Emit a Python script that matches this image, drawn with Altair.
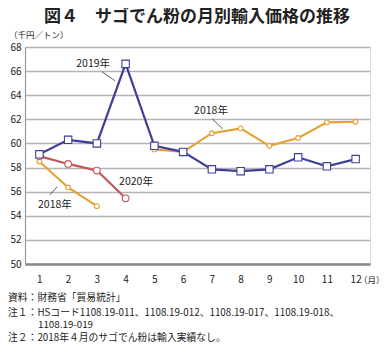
import altair as alt
import pandas as pd

months = list(range(1, 13))
y2019 = [59.1, 60.3, 60.0, 66.6, 59.8, 59.3, 57.85, 57.7, 57.85, 58.85, 58.1, 58.7]
y2018 = [58.5, 56.35, 54.8, None, 59.5, 59.3, 60.85, 61.25, 59.8, 60.45, 61.75, 61.8]
y2020 = [58.95, 58.3, 57.75, 55.45]
y_ticks = [50, 52, 54, 56, 58, 60, 62, 64, 66, 68]

title_text = "図４　サゴでん粉の月別輸入価格の推移"
unit_text = "（千円／トン）"
month_unit = "（月）"
notes = [
    "資料：財務省「貿易統計」",
    "注１：HSコード1108.19-011、1108.19-012、1108.19-017、1108.19-018、",
    "1108.19-019",
    "注２：2018年４月のサゴでん粉は輸入実績なし。",
]
note_x = [-17, -17, 13, -17]
note_y = [251, 265.5, 278, 290.5]

FONT = "Noto Sans CJK JP"
BLUE = "#3f3f98"
ORANGE = "#e2a234"
RED = "#c4585a"

xs = alt.Scale(domain=[0.5, 12.5], nice=False)
ys = alt.Scale(domain=[50, 68], nice=False)

XAX = alt.Axis(values=months, title=None, grid=False, ticks=False,
               labelOverlap=False, labelFlush=False,
               labelPadding=10, labelFontSize=10, labelColor="#222",
               labelFont=FONT, domainColor="#8a8a8a", domainWidth=2.5)
YAX = alt.Axis(values=y_ticks, title=None, ticks=False,
               labelOverlap=False, labelFlush=False,
               labelPadding=4, labelFontSize=10, labelColor="#222",
               labelFont=FONT, gridColor="#b4b4b4", gridWidth=1.3,
               domainColor="#9a9a9a", domainWidth=1.2)
X = alt.X("m:Q", scale=xs, axis=XAX)
Y = alt.Y("v:Q", scale=ys, axis=YAX)

df19 = pd.DataFrame({"m": months, "v": y2019})
df18a = pd.DataFrame({"m": months[:3], "v": y2018[:3]})
df18b = pd.DataFrame({"m": months[4:], "v": y2018[4:]})
df20 = pd.DataFrame({"m": months[:4], "v": y2020})


def series(df, color, shape, size):
    line = alt.Chart(df).mark_line(color=color, strokeWidth=2.2).encode(x=X, y=Y)
    pts = alt.Chart(df).mark_point(shape=shape, size=size, filled=True, fill="white",
                                   stroke=color, strokeWidth=1.1, opacity=1).encode(x=X, y=Y)
    return [line, pts]


layers = []
layers += series(df18a, ORANGE, "circle", 22)
layers += series(df18b, ORANGE, "circle", 22)
layers += series(df20, RED, "circle", 45)
layers += series(df19, BLUE, "square", 55)

lbl = pd.DataFrame({
    "m": [2.87, 4.36, 1.54, 6.97],
    "v": [66.6, 56.8, 54.9, 62.7],
    "t": ["2019年", "2020年", "2018年", "2018年"],
})
labels = alt.Chart(lbl).mark_text(font=FONT, fontSize=10.5, color="#222").encode(
    x=X, y=Y, text="t:N")

leaders = pd.DataFrame({
    "m": [3.18, 1.37, 7.01],
    "v": [65.95, 55.75, 62.05],
    "m2": [3.63, 1.62, 7.38],
    "v2": [65.2, 56.4, 61.2],
})
lead = alt.Chart(leaders).mark_rule(color="#333", strokeWidth=0.8).encode(
    x=X, y=Y, x2="m2:Q", y2="v2:Q")

unit = alt.Chart(pd.DataFrame({"t": [unit_text]})).mark_text(
    font=FONT, fontSize=8.5, color="#222", align="left").encode(
    x=alt.value(-16), y=alt.value(-12), text="t:N")
munit = alt.Chart(pd.DataFrame({"t": [month_unit]})).mark_text(
    font=FONT, fontSize=8.5, color="#222", align="left").encode(
    x=alt.value(334), y=alt.value(233), text="t:N")
ttl = alt.Chart(pd.DataFrame({"t": [title_text]})).mark_text(
    font=FONT, fontSize=17, fontWeight="bold", color="#222", align="center").encode(
    x=alt.value(172), y=alt.value(-30), text="t:N")

note_layers = []
for t, nx, ny in zip(notes, note_x, note_y):
    note_layers.append(
        alt.Chart(pd.DataFrame({"t": [t]})).mark_text(
            font=FONT, fontSize=9.8, color="#222", align="left").encode(
            x=alt.value(nx), y=alt.value(ny), text="t:N"))

chart = alt.layer(*layers, labels, lead, unit, munit, ttl, *note_layers).properties(
    width=345, height=217,
    padding={"left": 17, "top": 39, "right": 11, "bottom": 82},
    autosize=alt.AutoSizeParams(type="none"),
).configure_view(stroke=None).configure(background="white")

chart.save("out.html", embed_options={"renderer": "svg", "actions": False})
